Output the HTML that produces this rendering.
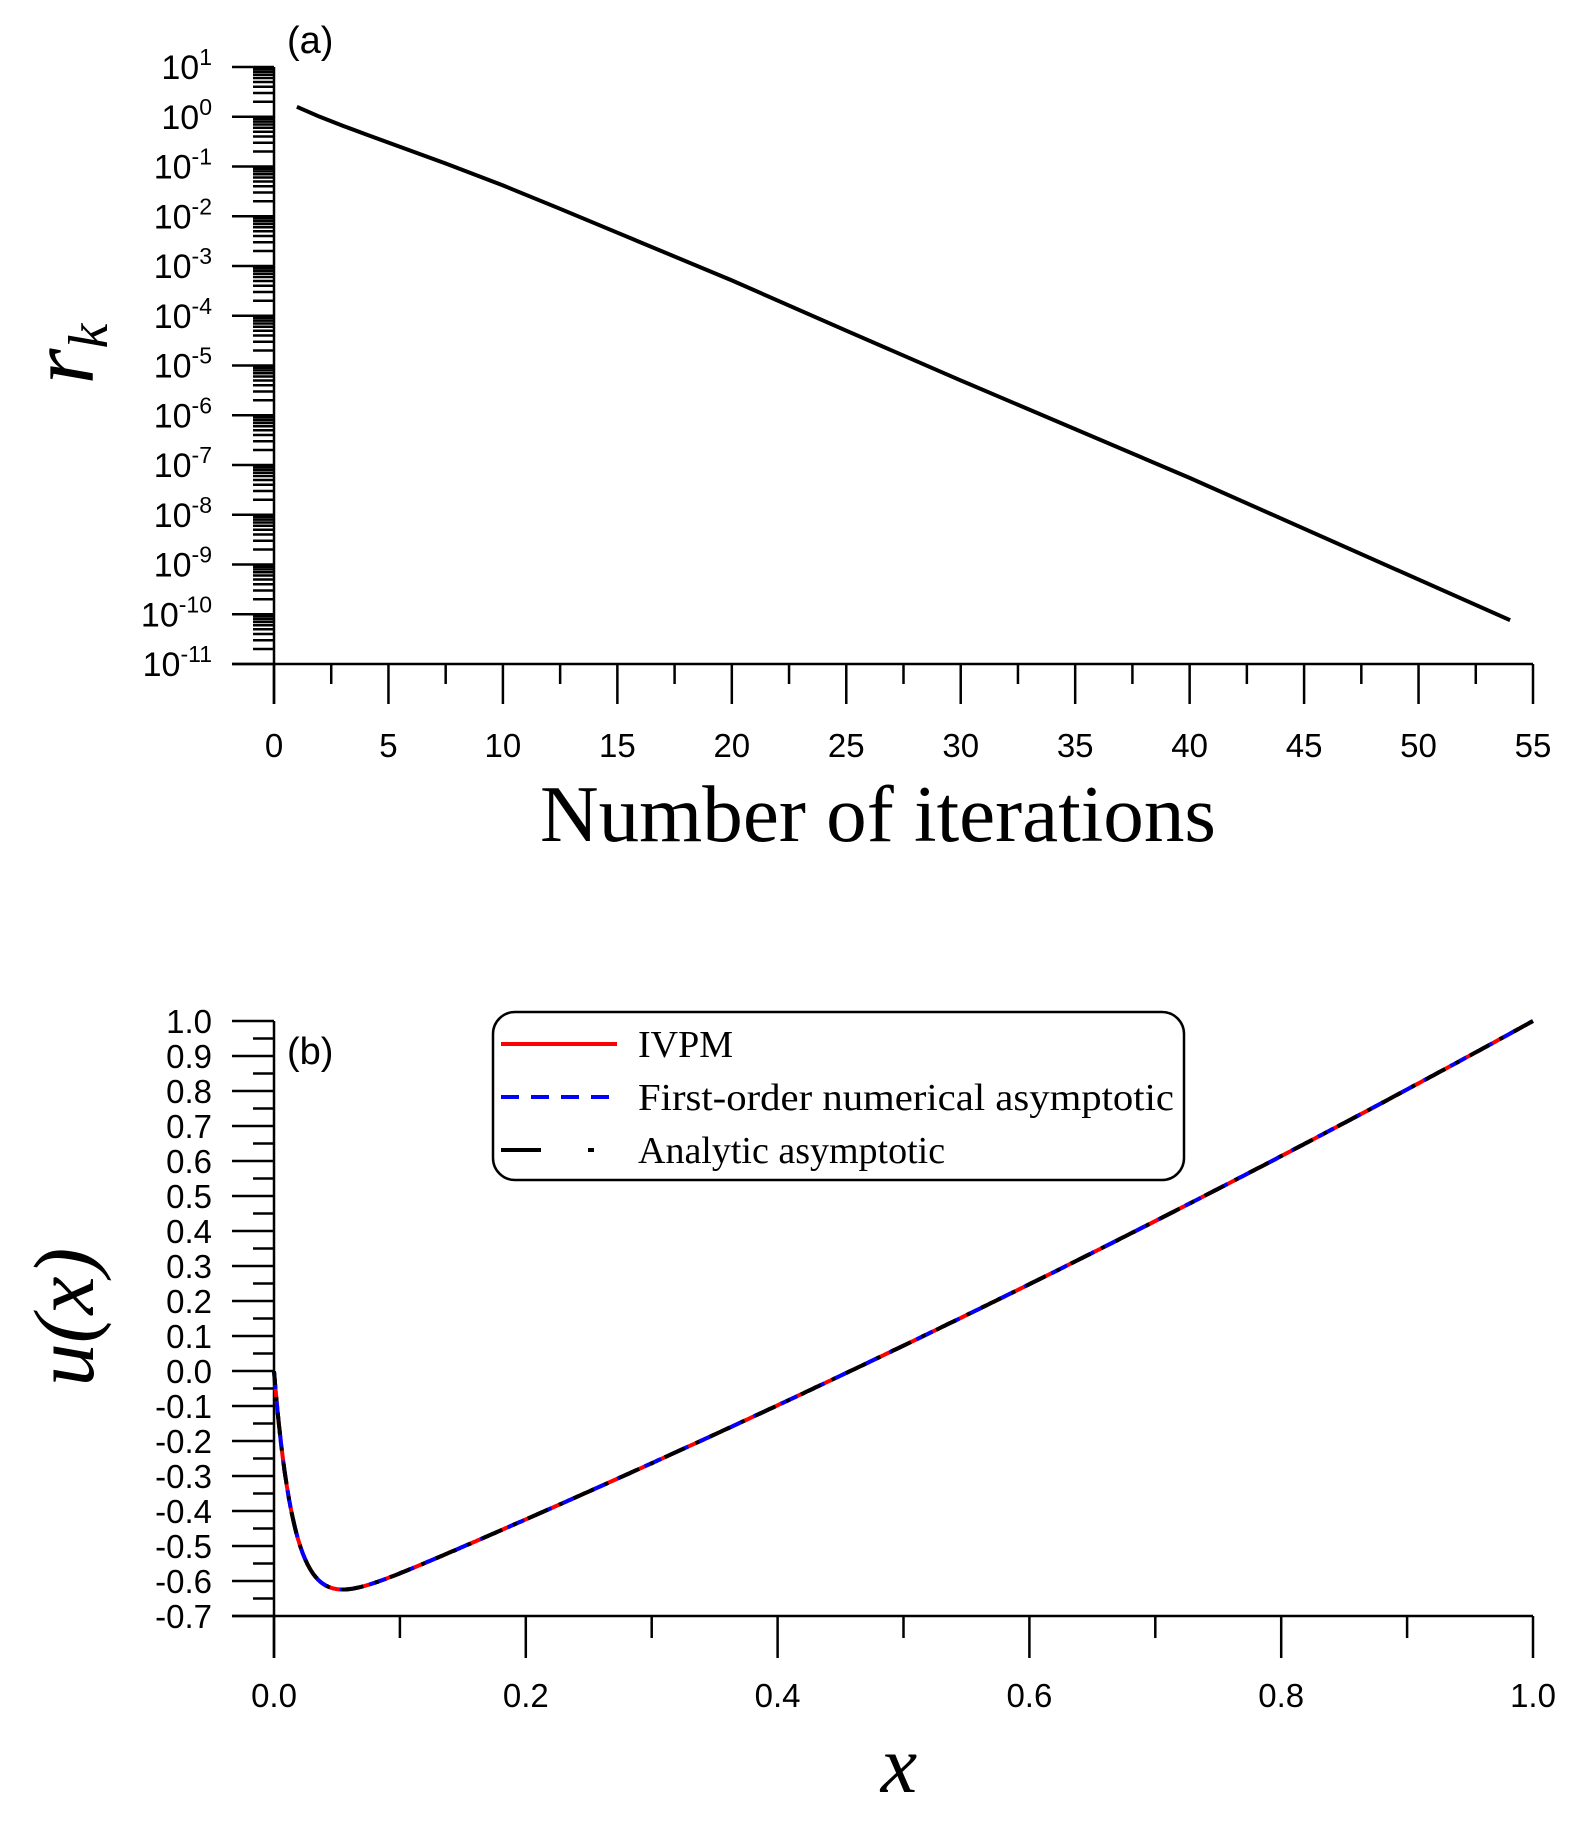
<!DOCTYPE html>
<html><head><meta charset="utf-8"><style>html,body{margin:0;padding:0;background:#fff}svg{display:block}</style></head>
<body>
<svg id="s" width="1578" height="1821" viewBox="0 0 1578 1821" xmlns="http://www.w3.org/2000/svg" font-family="Liberation Sans, sans-serif">
<rect width="1578" height="1821" fill="#fff"/>
<g id="g" stroke="#000" stroke-width="2.5" fill="none"></g>
<g id="t" fill="#000" stroke="none"></g>
<text x="287" y="53" font-size="38">(a)</text>
<text x="287" y="1064" font-size="38">(b)</text>
<text x="878" y="841" font-size="80" font-family="Liberation Serif, serif" text-anchor="middle" textLength="676" lengthAdjust="spacingAndGlyphs">Number of iterations</text>
<text transform="translate(93,354) rotate(-90)" font-size="92" font-family="Liberation Serif, serif" font-style="italic" text-anchor="middle">r<tspan font-size="56" dy="14">k</tspan></text>
<text transform="translate(93,1317) rotate(-90)" font-size="86" font-family="Liberation Serif, serif" font-style="italic" text-anchor="middle">u(x)</text>
<text x="899" y="1792" font-size="82" font-family="Liberation Serif, serif" font-style="italic" text-anchor="middle">x</text>
<g id="c"></g>
<rect x="493" y="1012" width="691" height="168" rx="22" fill="#fff" stroke="#000" stroke-width="2.5"/>
<line x1="501" y1="1044" x2="617" y2="1044" stroke="#f00" stroke-width="4"/>
<line x1="501" y1="1097" x2="617" y2="1097" stroke="#00f" stroke-width="4" stroke-dasharray="18 12"/>
<line x1="501" y1="1150" x2="541" y2="1150" stroke="#000" stroke-width="4"/>
<line x1="588" y1="1150" x2="594" y2="1150" stroke="#000" stroke-width="4"/>
<g font-family="Liberation Serif, serif" font-size="38">
<text x="638" y="1057">IVPM</text>
<text x="638" y="1110" textLength="536" lengthAdjust="spacingAndGlyphs">First-order numerical asymptotic</text>
<text x="638" y="1163">Analytic asymptotic</text>
</g>
</svg>
<script>
var NS="http://www.w3.org/2000/svg",g=document.getElementById('g'),t=document.getElementById('t'),cg=document.getElementById('c');
function L(x1,y1,x2,y2){var l=document.createElementNS(NS,'line');l.setAttribute('x1',x1);l.setAttribute('y1',y1);l.setAttribute('x2',x2);l.setAttribute('y2',y2);g.appendChild(l);}
function T(x,y,str,anc,sz){var e=document.createElementNS(NS,'text');e.setAttribute('x',x);e.setAttribute('y',y);e.setAttribute('text-anchor',anc);e.setAttribute('font-size',sz||30);e.textContent=str;t.appendChild(e);return e;}
var X0=274,XK=(1533-274)/55,Y1=67,D=49.75;
function yl(l){return Y1+(1-l)*D;}
L(X0,Y1,X0,704);L(232,664,1533,664);
for(var p=1;p>=-11;p--){var y=yl(p);L(232,y,X0,y);
 var e=T(212,y+12,'','end',34);var a=document.createElementNS(NS,'tspan');a.textContent='10';var sp=document.createElementNS(NS,'tspan');sp.setAttribute('font-size','23');sp.setAttribute('dy','-14');sp.textContent=String(p);e.appendChild(a);e.appendChild(sp);
 if(p>-11){for(var m=2;m<=9;m++){var yy=yl(p-1+Math.log10(m));L(253,yy,X0,yy);}}}
for(var k=0;k<=55;k+=2.5){var x=X0+k*XK;var maj=(k%5==0);L(x,664,x,maj?704:684);if(maj)T(x,757,String(k),'middle',33);}
var pts=[[1,0.2],[2,0.0],[3,-0.18],[4,-0.35],[5,-0.52],[7.5,-0.94],[10,-1.38],[12.5,-1.85],[15,-2.33],[20,-3.29],[25,-4.3],[30,-5.3],[40,-7.26],[54,-10.12]];
var d='';pts.forEach(function(q,i){d+=(i?'L':'M')+(X0+q[0]*XK).toFixed(1)+','+yl(q[1]).toFixed(1);});
var pa=document.createElementNS(NS,'path');pa.setAttribute('d',d);pa.setAttribute('stroke-width','4');pa.setAttribute('stroke-linejoin','round');g.appendChild(pa);
var BX=274,BW=1259,BY=1021,BS=350;
function bx(v){return BX+v*BW;}function by(v){return BY+(1-v)*BS;}
L(BX,BY,BX,1658);L(232,1616,1533,1616);
for(var i=0;i<=34;i++){var v=1-i*0.05;var y=by(v);var maj=(i%2==0);L(maj?232:253,y,BX,y);if(maj){var lab=(Math.round(v*10)/10).toFixed(1);if(lab=='-0.0')lab='0.0';T(212,y+12,lab,'end',33);}}
for(var i=0;i<=10;i++){var x=bx(i/10);var maj=(i%2==0);L(x,1616,x,maj?1658:1638);if(maj)T(x,1707,(i/10).toFixed(1),'middle',33);}
function u(x){var o=-0.73+1.48*x+0.25*x*x;return o+0.73*Math.exp(-x/0.016);}
var dd='';for(var i=0;i<=600;i++){var x=Math.pow(i/600,1.6);dd+=(i?'L':'M')+bx(x).toFixed(1)+','+by(u(x)).toFixed(1);}
[['#f00','none',0],['#00f','18 12',0],['#000','22 12 4 12',8]].forEach(function(c){var p=document.createElementNS(NS,'path');p.setAttribute('d',dd);p.setAttribute('fill','none');p.setAttribute('stroke',c[0]);p.setAttribute('stroke-width','4');if(c[1]!='none'){p.setAttribute('stroke-dasharray',c[1]);p.setAttribute('stroke-dashoffset',c[2]);}cg.appendChild(p);});
</script>
</body></html>
